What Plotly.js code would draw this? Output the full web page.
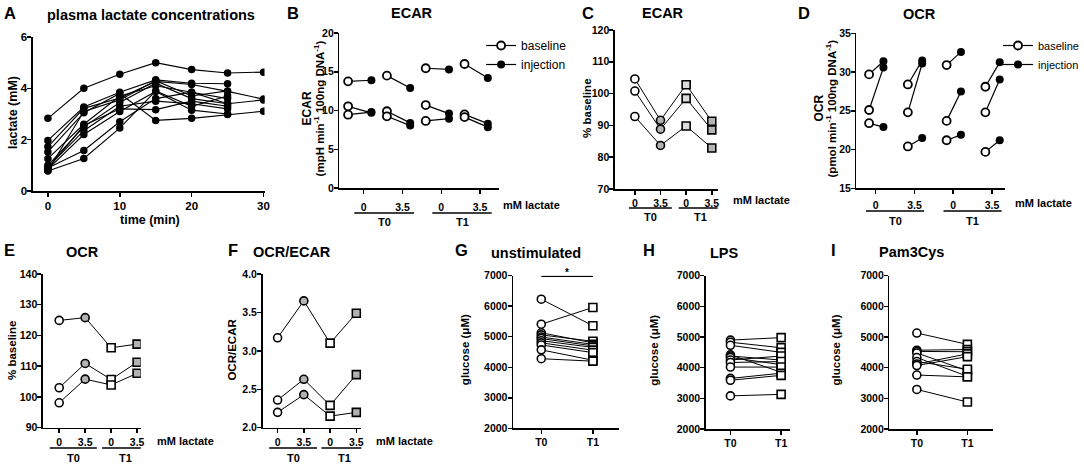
<!DOCTYPE html>
<html>
<head>
<meta charset="utf-8">
<script src="https://cdn.plot.ly/plotly-3.0.1.min.js"></script>
<style>
  body { margin: 0; background: #fff; }
  #plot { width: 1084px; height: 467px; }
</style>
</head>
<body>
<div id="plot"></div>
<script>
// ---- data ----

// A: plasma lactate (mM) per subject over time (min)
const aTime = [0, 5, 10, 15, 20, 25, 30];
const aLactate = [
    [2.83, 4.00, 4.55, 5.00, 4.73, 4.60, 4.63],
    [1.97, 3.27, 3.85, 4.33, 4.20, 4.18, null],
    [1.72, 3.22, 3.62, 4.27, 4.15, 3.88, 3.58],
    [1.52, 3.05, 3.80, 2.75, 2.83, 2.98, 3.11],
    [1.26, 2.60, 3.70, 4.10, 3.85, 3.60, null],
    [1.00, 2.50, 3.45, 4.20, 3.60, 3.40, null],
    [0.93, 2.35, 3.30, 3.50, 3.40, 3.20, null],
    [0.85, 2.20, 3.10, 3.88, 3.15, 3.00, null],
    [0.90, 1.58, 2.70, 3.60, 3.85, 3.40, 3.55],
    [0.78, 1.27, 2.45, 3.90, 3.30, 3.70, null],
    [0.88, 2.55, 3.20, 3.17, 3.50, 3.30, null],
    [0.80, 3.10, 3.55, 4.30, 3.70, 3.90, null]
];
const aTimeTicks = [0, 10, 20, 30];
const aLactateTicks = [0, 2, 4, 6];

// shared category labels for the lactate panels
const lactateTicks = ['0', '3.5', '0', '3.5'];
const timepoints = ['T0', 'T1'];

// B: ECAR, one row per lactate/time group, one value per donor
const bBaseline = [[13.76, 10.54, 9.46], [14.5, 9.9, 9.25], [15.45, 10.7, 8.65], [16.0, 9.5, 9.15]];
const bInjection = [[13.9, 9.7, 9.8], [12.9, 8.4, 8.05], [15.3, 9.6, 8.95], [14.2, 8.3, 7.85]];
const bTicks = [0, 5, 10, 15, 20];

// D: OCR
const dBaseline = [[29.7, 25.1, 23.4], [28.4, 24.8, 20.4], [30.9, 23.7, 21.2], [28.1, 24.8, 19.7]];
const dInjection = [[31.4, 30.6, 22.9], [31.5, 31.1, 21.5], [32.6, 27.5, 21.9], [31.25, 29.05, 21.2]];
const dTicks = [15, 20, 25, 30, 35];

// C: ECAR % baseline, one row per donor across the 4 groups
const cPercent = [[104.6, 91.6, 102.8, 91.3], [100.8, 88.8, 98.5, 88.6], [92.8, 83.7, 89.8, 82.9]];
const cTicks = [70, 80, 90, 100, 110, 120];
// E: OCR % baseline
const ePercent = [[124.9, 125.8, 116.0, 117.2], [103.0, 110.9, 105.7, 111.3], [98.1, 105.8, 103.9, 107.7]];
const eTicks = [90, 100, 110, 120, 130, 140];
// F: OCR/ECAR
const fRatio = [[3.17, 3.65, 3.10, 3.49], [2.36, 2.63, 2.29, 2.69], [2.20, 2.43, 2.15, 2.20]];
const fTicks = ['2.0', '2.5', '3.0', '3.5', '4.0'];

// G-I: glucose (uM) at T0 and T1 per donor
const gT0 = [6230, 5410, 5130, 5060, 4990, 4940, 4870, 4800, 4730, 4570, 4280];
const gT1 = [5360, 5960, 4800, 4850, 4750, 4700, 4650, 4560, 4480, 4230, 4200];
const hT0 = [4900, 4830, 4730, 4420, 4380, 4330, 4250, 4170, 4020, 3650, 3590, 3080];
const hT1 = [4980, 4650, 4500, 3850, 4250, 4100, 4380, 4200, 4020, 3820, 3750, 3130];
const iT0 = [5130, 4570, 4530, 4480, 4330, 4200, 4120, 4070, 3760, 3290];
const iT1 = [4760, 4590, 4520, 3900, 3720, 3950, 4450, 4360, 3700, 2880];
const glucoseTicks = [2000, 3000, 4000, 5000, 6000, 7000];

// ---- layout helpers ----
const W = 1084, H = 467;
const FONT = 'Arial, "Liberation Sans", sans-serif';
const GREY = '#b3b3b3';
const px = v => v / W;
const py = v => 1 - v / H;

const layout = {
    width: W,
    height: H,
    margin: { l: 0, r: 0, t: 0, b: 0 },
    paper_bgcolor: '#fff',
    plot_bgcolor: 'rgba(0,0,0,0)',
    font: { family: FONT, color: '#000' },
    showlegend: true,
    annotations: [],
    shapes: [],
    legend: {
        x: px(482), y: py(31), xanchor: 'left', yanchor: 'top',
        bgcolor: 'rgba(0,0,0,0)', font: { family: FONT, size: 12, color: '#000' }
    },
    legend2: {
        x: px(1000), y: py(31), xanchor: 'left', yanchor: 'top',
        bgcolor: 'rgba(0,0,0,0)', font: { family: FONT, size: 11, color: '#000' }
    }
};

// bold tick labels: values placed at vals, shown as texts (defaults to the values)
function ticks(vals, texts) {
    return {
        tickvals: vals,
        ticktext: (texts || vals).map(t => '<b>' + t + '</b>')
    };
}

// box = [left, right, top, bottom] in pixels
function addAxes(n, box, xRange, yRange, xExtra, yExtra, fontSize) {
    const s = n === 1 ? '' : String(n);
    const base = {
        showline: true, linecolor: '#000', linewidth: 1.5,
        ticks: 'outside', ticklen: 4, tickwidth: 1.5, tickcolor: '#000',
        showgrid: false, zeroline: false, fixedrange: true,
        tickfont: { family: FONT, size: fontSize || 10.5, color: '#000' }
    };
    layout['xaxis' + s] = Object.assign({}, base,
        { domain: [px(box[0]), px(box[1])], range: xRange, anchor: 'y' + s }, xExtra);
    layout['yaxis' + s] = Object.assign({}, base,
        { domain: [py(box[3]), py(box[2])], range: yRange, anchor: 'x' + s, ticklabelstandoff: -2 }, yExtra);
}

function label(x, y, text, size, extra) {
    layout.annotations.push(Object.assign({
        xref: 'paper', yref: 'paper', x: px(x), y: py(y), text: '<b>' + text + '</b>',
        showarrow: false, xanchor: 'center', yanchor: 'middle',
        font: { family: FONT, size: size, color: '#000' }
    }, extra));
}

function ylabel(x, y, text, size) {
    label(x, y, text, size, { textangle: -90 });
}

// "0 3.5 0 3.5  mM lactate" row with T0 / T1 brackets underneath
function lactateRow(n, lineY, groupY, spans, mmX, mmY) {
    const xr = 'x' + n;
    spans.forEach((sp, i) => {
        layout.shapes.push({
            type: 'line', xref: xr, yref: 'paper', x0: sp[0], x1: sp[1],
            y0: py(lineY), y1: py(lineY), line: { color: '#000', width: 1.5 }
        });
        layout.annotations.push({
            xref: xr, yref: 'paper', x: (sp[0] + sp[1]) / 2, y: py(groupY),
            text: '<b>' + timepoints[i] + '</b>', showarrow: false, yanchor: 'middle',
            font: { family: FONT, size: 11, color: '#000' }
        });
    });
    label(mmX, mmY, 'mM lactate', 11, { xanchor: 'left' });
}

const catTicks = ticks([1, 2, 3, 4], lactateTicks);
const tTicks = ticks([1, 2], timepoints);
const glucoseY = ticks(glucoseTicks);

// ---- axes ----
addAxes(1, [33, 265, 37, 191], [-2.08, 30.14], [0, 6], ticks(aTimeTicks), ticks(aLactateTicks), 11.5);
addAxes(2, [340, 500, 33, 188], [0.375, 4.49], [0, 20],
    Object.assign({ ticklabelstandoff: 5 }, catTicks), ticks(bTicks));
addAxes(3, [616, 719, 30, 189], [0.22, 4.23], [70, 120], catTicks, ticks(cTicks));
addAxes(4, [858, 1007, 33.3, 188.3], [0.503, 4.34], [15, 35],
    Object.assign({ ticklabelstandoff: 3 }, catTicks), ticks(dTicks));
addAxes(5, [43, 141, 274, 427.7], [0.373, 4.14], [90, 140], catTicks, ticks(eTicks));
addAxes(6, [263, 362, 274, 427.7], [0.426, 4.19], [2, 4], catTicks, ticks([2, 2.5, 3, 3.5, 4], fTicks));
addAxes(7, [514, 620, 275.7, 428.3], [0.453, 2.503], [2000, 7000], tTicks, glucoseY);
addAxes(8, [707, 791, 275.7, 429], [0.512, 2.166], [2000, 7000], tTicks, glucoseY);
addAxes(9, [891, 995, 275.7, 429], [0.456, 2.51], [2000, 7000], tTicks, glucoseY);

// ---- traces ----
const traces = [];
const axisOf = n => (n === 1 ? { xaxis: 'x', yaxis: 'y' } : { xaxis: 'x' + n, yaxis: 'y' + n });

// A
aLactate.forEach(row => {
    traces.push(Object.assign({
        x: aTime, y: row, mode: 'lines+markers', showlegend: false, hoverinfo: 'skip',
        line: { color: '#000', width: 1.1 },
        marker: { color: '#000', size: 7.5 }
    }, axisOf(1)));
});

// B and D: baseline -> injection pairs
function pairedPanel(n, baseline, injection, openShift, fillShift, legendId) {
    const lx = [], ly = [], ox = [], oy = [], fx = [], fy = [];
    baseline.forEach((group, k) => {
        group.forEach((v, i) => {
            const xo = k + 1 + openShift, xf = k + 1 + fillShift;
            lx.push(xo, xf, null);
            ly.push(v, injection[k][i], null);
            ox.push(xo); oy.push(v);
            fx.push(xf); fy.push(injection[k][i]);
        });
    });
    const ax = axisOf(n);
    traces.push(Object.assign({ x: lx, y: ly, mode: 'lines', showlegend: false, hoverinfo: 'skip',
        line: { color: '#000', width: 1.2 } }, ax));
    traces.push(Object.assign({ x: fx, y: fy, mode: 'markers', showlegend: false,
        marker: { color: '#000', size: 8 } }, ax));
    traces.push(Object.assign({ x: ox, y: oy, mode: 'markers', showlegend: false,
        marker: { color: '#fff', size: 8, line: { color: '#000', width: 1.8 } } }, ax));
    // legend entries only
    traces.push(Object.assign({ x: [null], y: [null], mode: 'lines+markers', name: 'baseline',
        legend: legendId, line: { color: '#000', width: 1.2 },
        marker: { color: '#fff', size: 8, line: { color: '#000', width: 1.8 } } }, ax));
    traces.push(Object.assign({ x: [null], y: [null], mode: 'lines+markers', name: 'injection',
        legend: legendId, line: { color: '#000', width: 1.2 },
        marker: { color: '#000', size: 8 } }, ax));
}
pairedPanel(2, bBaseline, bInjection, -0.4, 0.2, 'legend');
pairedPanel(4, dBaseline, dInjection, -0.17, 0.2, 'legend2');

// C, E, F: donors followed across the four groups
function groupPanel(n, rows, fills) {
    rows.forEach(row => {
        traces.push(Object.assign({
            x: [1, 2, 3, 4], y: row, mode: 'lines+markers', showlegend: false, hoverinfo: 'skip',
            line: { color: '#000', width: 1 },
            marker: {
                symbol: ['circle', 'circle', 'square', 'square'], color: fills, size: 8,
                line: { color: '#000', width: 1.6 }
            }
        }, axisOf(n)));
    });
}
groupPanel(3, cPercent, ['#fff', GREY, '#dcdcdc', GREY]);
groupPanel(5, ePercent, ['#fff', GREY, '#fff', GREY]);
groupPanel(6, fRatio, ['#fff', GREY, '#fff', GREY]);

// G, H, I: T0 vs T1 glucose
function glucosePanel(n, t0, t1) {
    t0.forEach((v, i) => {
        traces.push(Object.assign({
            x: [1, 2], y: [v, t1[i]], mode: 'lines+markers', showlegend: false, hoverinfo: 'skip',
            line: { color: '#000', width: 1 },
            marker: { symbol: ['circle', 'square'], color: '#fff', size: 8,
                line: { color: '#000', width: 1.6 } }
        }, axisOf(n)));
    });
}
glucosePanel(7, gT0, gT1);
glucosePanel(8, hT0, hT1);
glucosePanel(9, iT0, iT1);

// ---- text ----
const TITLE = 14.5, LETTER = 16.5;
label(10, 13, 'A', LETTER);
label(151, 15, 'plasma lactate concentrations', TITLE);
label(294, 13, 'B', LETTER);
label(413, 13, 'ECAR', TITLE);
label(589, 13, 'C', LETTER);
label(664, 13, 'ECAR', TITLE);
label(805, 13, 'D', LETTER);
label(921, 14, 'OCR', TITLE);
label(10, 250, 'E', LETTER);
label(83, 252, 'OCR', TITLE);
label(233, 250, 'F', LETTER);
label(293, 252, 'OCR/ECAR', TITLE);
label(462, 250, 'G', LETTER);
label(537, 253, 'unstimulated', TITLE);
label(650, 250, 'H', LETTER);
label(726, 253, 'LPS', TITLE);
label(835, 250, 'I', LETTER);
label(913, 252, 'Pam3Cys', TITLE);

ylabel(13, 112, 'lactate (mM)', 12.5);
label(150, 220, 'time (min)', 12.5);
ylabel(308, 108, 'ECAR', 12);
ylabel(320, 108, '(mpH min<sup>-1</sup> 100ng DNA<sup>-1</sup>)', 11.5);
ylabel(588, 108, '% baseline', 11.5);
ylabel(821, 108, 'OCR', 12);
ylabel(833, 108, '(pmol min<sup>-1</sup> 100ng DNA<sup>-1</sup>)', 11.5);
ylabel(12, 350, '% baseline', 11.5);
ylabel(232, 350, 'OCR/ECAR', 11.5);
ylabel(466, 350, 'glucose (\u03bcM)', 11.5);
ylabel(655, 350, 'glucose (\u03bcM)', 11.5);
ylabel(838, 350, 'glucose (\u03bcM)', 11.5);

lactateRow(2, 213, 222, [[0.76, 2.3], [2.77, 4.3]], 502, 205);
lactateRow(3, 208, 217, [[0.77, 2.44], [2.71, 4.39]], 732, 200);
lactateRow(4, 211, 221, [[0.75, 2.25], [2.75, 4.25]], 1015, 203);
lactateRow(5, 448, 458, [[0.64, 2.45], [2.65, 4.42]], 155, 441);
lactateRow(6, 448, 458, [[0.68, 2.5], [2.67, 4.43]], 375, 441);

// significance bar in G
layout.shapes.push({ type: 'line', xref: 'x7', yref: 'y7', x0: 1, x1: 2, y0: 6980, y1: 6980,
    line: { color: '#000', width: 1.5 } });
layout.annotations.push({ xref: 'x7', yref: 'paper', x: 1.5, y: py(272), text: '<b>*</b>',
    showarrow: false, font: { family: FONT, size: 10, color: '#000' } });

Plotly.newPlot('plot', traces, layout, { displayModeBar: false, staticPlot: true });
</script>
</body>
</html>
